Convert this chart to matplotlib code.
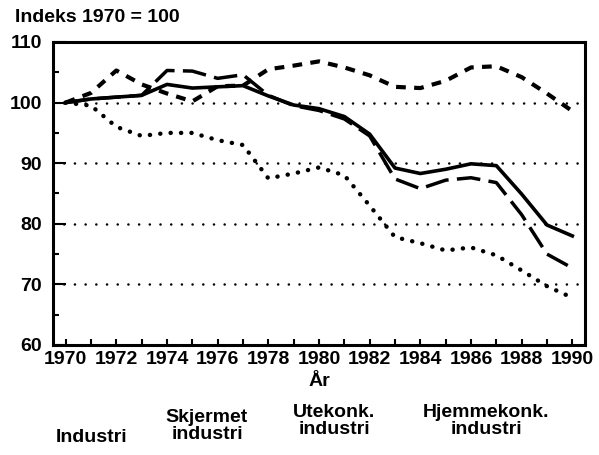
import numpy as np
import matplotlib
matplotlib.use("Agg")
import matplotlib.pyplot as plt

plt.rcParams['font.family'] = ['Liberation Sans', 'DejaVu Sans']
plt.rcParams['lines.scale_dashes'] = False

years = np.arange(1970, 1991)

# Industri (heltrukken)
industri = [100, 100.6, 100.9, 101.2, 103.0, 102.4, 102.6, 102.8, 101.1, 99.6,
            99.0, 97.7, 94.8, 89.2, 88.3, 89.0, 89.9, 89.6, 84.9, 79.8, 78.0]
# Skjermet industri (korte streker, øverst)
skjermet = [100, 101.6, 105.3, 103.0, 101.5, 100.2, 102.7, 102.8, 105.5, 106.1,
            106.8, 105.8, 104.5, 102.6, 102.4, 103.6, 105.8, 106.0, 104.2, 101.5, 98.6]
# Utekonk. industri (lange streker)
utekonk = [100, 100.6, 100.9, 101.2, 105.3, 105.2, 104.0, 104.6, 101.2, 99.5,
           98.7, 97.3, 94.5, 87.4, 85.8, 87.2, 87.6, 86.8, 81.5, 75.0, 72.7]
# Hjemmekonk. industri (prikket)
hjemmekonk = [100, 99.5, 96.0, 94.5, 95.0, 95.0, 93.8, 93.0, 87.5, 88.3,
              89.3, 88.0, 83.0, 77.8, 76.8, 75.6, 76.1, 74.8, 72.3, 69.7, 67.8]

legend_labels = ["Industri", "Skjermet\nindustri", "Utekonk.\nindustri", "Hjemmekonk.\nindustri"]
gridlines = [70, 80, 90, 100]

fig = plt.figure(figsize=(5.99, 4.55), dpi=100)
ax = fig.add_axes([53/599, 1-345/455, 532/599, 303/455])

# dotted reference lines
for g in gridlines:
    ax.axhline(g, color='black', lw=1.8, dashes=(0.1, 7.6), dash_capstyle='round', zorder=1)

ax.plot(years, industri, color='black', lw=2.6, solid_joinstyle='round', zorder=3)
ax.plot(years, skjermet, color='black', lw=3.0, dashes=(7, 6), dash_capstyle='butt', zorder=3)
ax.plot(years, utekonk, color='black', lw=2.5, dashes=(17, 6), dash_capstyle='butt', zorder=3)
ax.plot(years, hjemmekonk, color='black', lw=3.2, dashes=(0.1, 7.4), dash_capstyle='round', zorder=3)

ax.set_xlim(1969.5, 1990.5)
ax.set_ylim(60, 110)
ax.set_xticks(np.arange(1970, 1991, 2))
ax.set_xticks(np.arange(1971, 1991, 2), minor=True)
ax.set_yticks(np.arange(60, 111, 10))
ax.set_yticks(np.arange(65, 110, 10), minor=True)

for s in ax.spines.values():
    s.set_linewidth(2.2)

ax.tick_params(axis='x', which='both', direction='in', length=4.5, width=1.5,
               labelsize=14, pad=4)
ax.tick_params(axis='y', which='major', direction='in', length=9, width=1.5,
               labelsize=14, pad=8)
ax.tick_params(axis='y', which='minor', direction='in', length=4, width=1.5)
for lab in ax.get_xticklabels() + ax.get_yticklabels():
    lab.set_fontweight('bold')

fig.text(15/599, 1-18/455, "Indeks 1970 = 100", fontsize=14, fontweight='bold',
         ha='left', va='center')
fig.text(319/599, 1-381/455, "År", fontsize=14, fontweight='bold',
         ha='center', va='center')

leg_x = [92, 207, 334, 486]
leg_y = [437, 426, 421, 421]
for lbl, x, y in zip(legend_labels, leg_x, leg_y):
    fig.text(x/599, 1-y/455, lbl, fontsize=14, fontweight='bold', ha='center',
             va='center', linespacing=1.0)

fig.savefig("out.png", dpi=100)
